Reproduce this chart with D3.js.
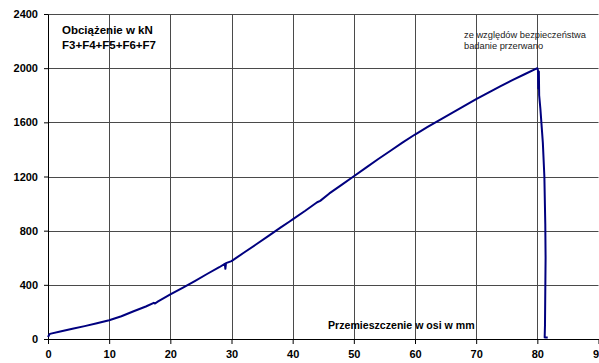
<!DOCTYPE html>
<html>
<head>
<meta charset="utf-8">
<script src="https://cdn.jsdelivr.net/npm/d3@7"></script>
<style>
  html, body { margin: 0; padding: 0; background: #fff; overflow: hidden; }
  svg { display: block; font-family: "Liberation Sans", Arial, sans-serif; }
</style>
</head>
<body>
<svg id="chart" width="599" height="363"></svg>
<script>
// Displacement along the axis [mm]
const displacement = [
  0, 0.3, 2, 4, 6, 8, 10, 12, 14, 16, 17.3, 17.5, 18, 20, 22, 24, 26, 28,
  28.9, 29.0, 29.1, 30, 32, 34, 36, 38, 39.5, 40, 42, 44, 44.5, 46, 48, 50,
  52, 54, 56, 58, 60, 62, 64, 66, 68, 70, 72, 74, 76, 78, 80,
  80.1, 80.15, 80.25, 80.3, 80.5, 80.9, 81.15, 81.3, 81.35, 81.3, 81.25, 81.2, 81.7
];
// Load F3+F4+F5+F6+F7 [kN]
const load = [
  15, 38, 55, 75, 95, 116, 139, 168, 205, 240, 267, 262, 278, 329, 378, 428, 480, 530,
  555, 518, 560, 575, 637, 698, 760, 822, 868, 883, 945, 1010, 1020, 1075, 1138, 1202,
  1266, 1329, 1390, 1452, 1510, 1564, 1617, 1668, 1720, 1771, 1820, 1867, 1913, 1957, 2000,
  1985, 1850, 1975, 1800, 1700, 1450, 1200, 850, 600, 350, 100, 12, 12
];

const xTicks = [0, 10, 20, 30, 40, 50, 60, 70, 80, 90];
const yTicks = [0, 400, 800, 1200, 1600, 2000, 2400];

const titleLines = ["Obciążenie w kN", "F3+F4+F5+F6+F7"];
const noteLines = ["ze względów bezpieczeństwa", "badanie przerwano"];
const xTitle = "Przemieszczenie w osi w mm";

const svg = d3.select("#chart");

const x = d3.scaleLinear().domain([0, 90]).range([48, 598.5]);
const y = d3.scaleLinear().domain([0, 2400]).range([339, 14]);

// grid
const grid = svg.append("g").attr("stroke", "#4a4a4a").attr("stroke-width", 1);
grid.selectAll(".hg").data(yTicks.filter(d => d > 0)).join("line")
  .attr("x1", x(0)).attr("x2", x(90))
  .attr("y1", d => Math.round(y(d)) + 0.5).attr("y2", d => Math.round(y(d)) + 0.5);
grid.selectAll(".vg").data(xTicks.filter(d => d > 0)).join("line")
  .attr("x1", d => Math.round(x(d)) + 0.5).attr("x2", d => Math.round(x(d)) + 0.5)
  .attr("y1", y(2400)).attr("y2", y(0));

// axes
const xAxis = svg.append("g")
  .attr("transform", `translate(0,${y(0)})`)
  .call(d3.axisBottom(x).tickValues(xTicks).tickSize(5).tickPadding(4).tickSizeOuter(0).tickFormat(d3.format("d")));
const yAxis = svg.append("g")
  .attr("transform", `translate(${x(0)},0)`)
  .call(d3.axisLeft(y).tickValues(yTicks).tickSize(4).tickPadding(6).tickSizeOuter(0).tickFormat(d3.format("d")));

[xAxis, yAxis].forEach(a => {
  a.selectAll("path, line").attr("stroke", "#000");
  a.selectAll("text")
    .attr("fill", "#000")
    .attr("font-size", 11)
    .attr("font-weight", "bold")
    .attr("font-family", "'Liberation Sans', Arial, sans-serif");
});
xAxis.selectAll("text").attr("dy", "0.9em");

// load curve
const line = d3.line()
  .x((d, i) => x(displacement[i]))
  .y(d => y(d));
svg.append("path")
  .datum(load)
  .attr("fill", "none")
  .attr("stroke", "#00007f")
  .attr("stroke-width", 2)
  .attr("stroke-linejoin", "round")
  .attr("d", line);

// series title
svg.append("g").selectAll("text").data(titleLines).join("text")
  .attr("x", 62)
  .attr("y", (d, i) => 34 + i * 15)
  .attr("font-size", 11.5)
  .attr("font-weight", "bold")
  .attr("fill", "#000")
  .text(d => d);

// note at the end of the test
svg.append("g").selectAll("text").data(noteLines).join("text")
  .attr("x", 464)
  .attr("y", (d, i) => 37.5 + i * 11.5)
  .attr("font-size", 9.3)
  .attr("fill", "#222")
  .text(d => d);

// axis title
svg.append("text")
  .attr("x", 328)
  .attr("y", 328.5)
  .attr("font-size", 10.6)
  .attr("font-weight", "bold")
  .attr("fill", "#000")
  .text(xTitle);
</script>
</body>
</html>
